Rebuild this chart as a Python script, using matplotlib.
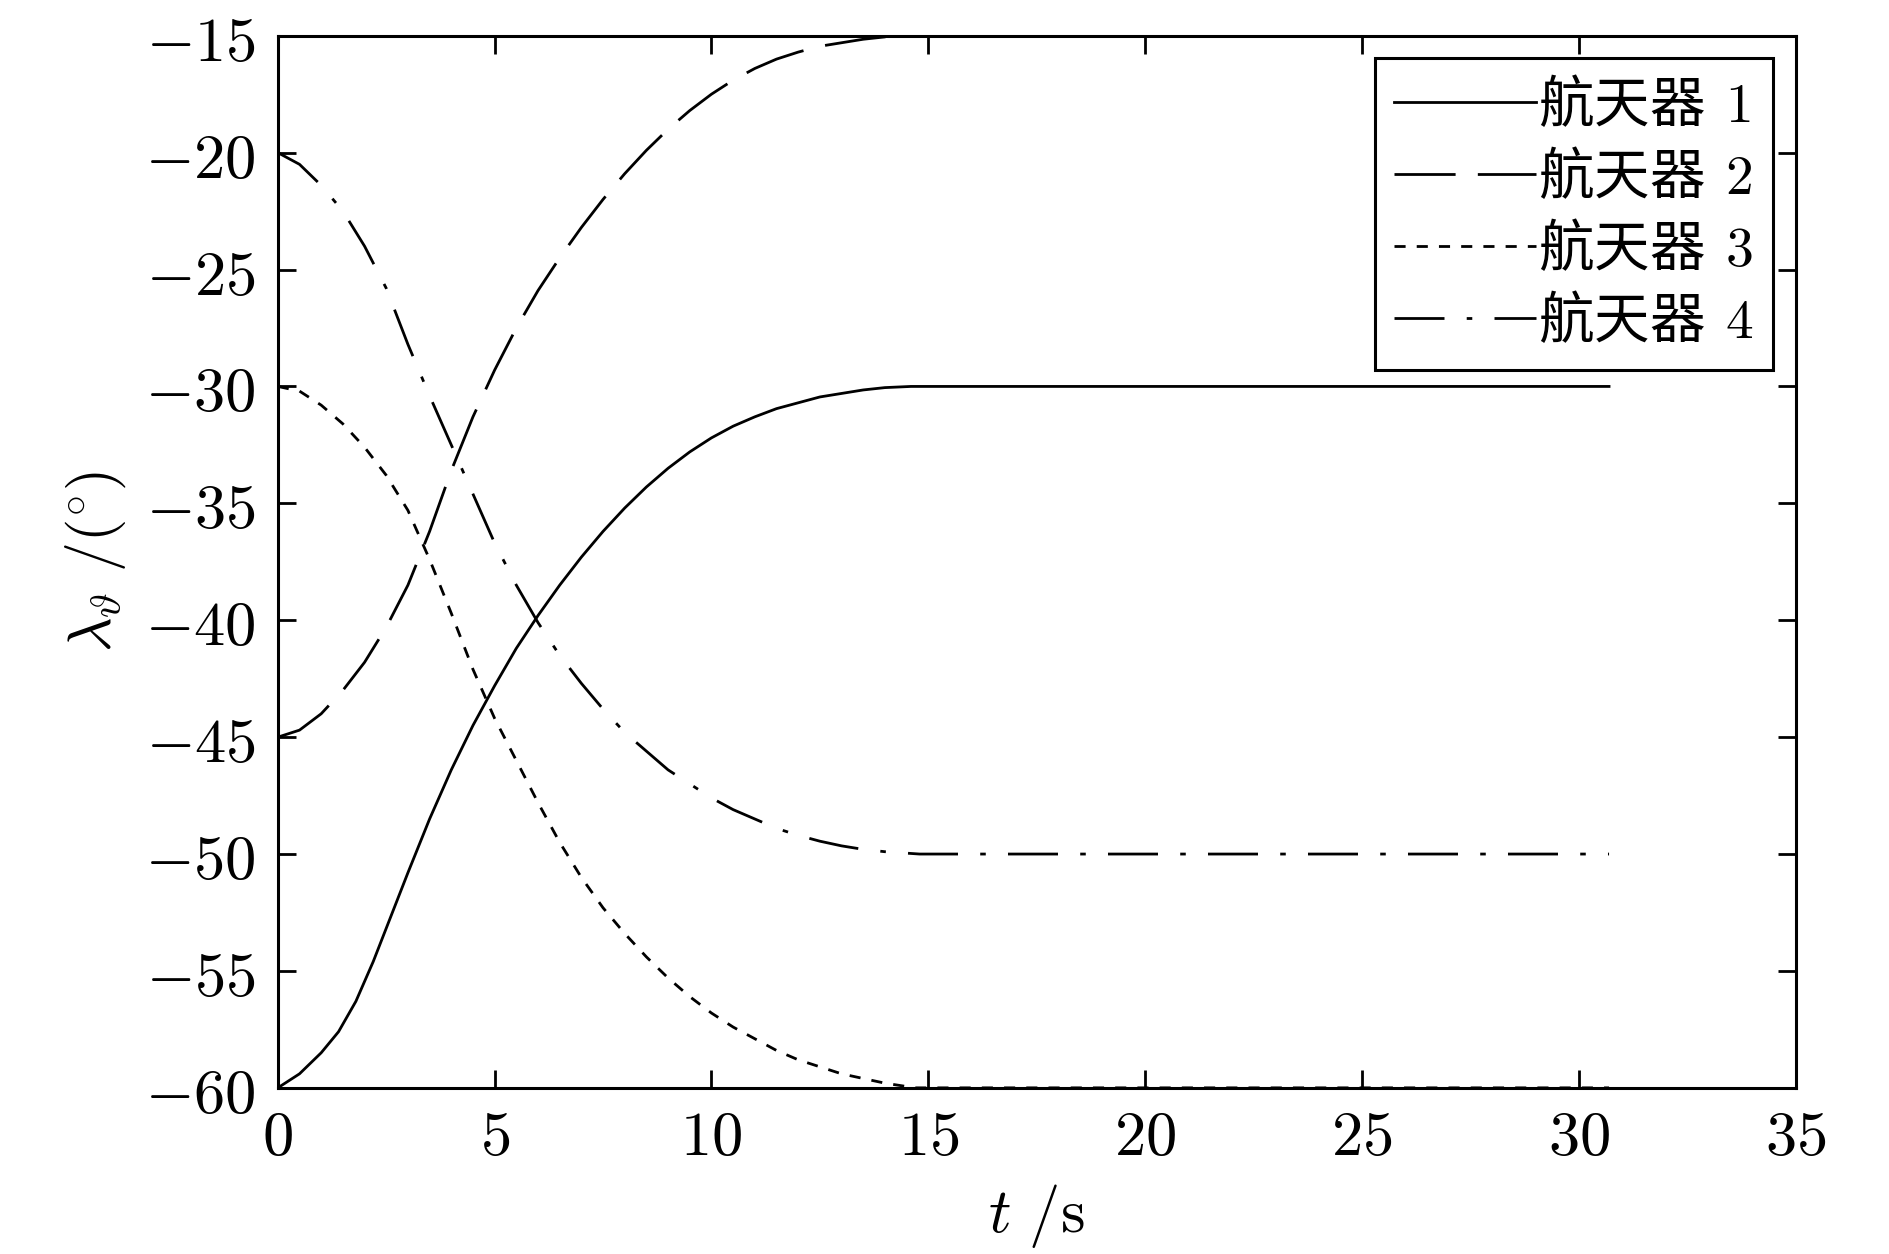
import matplotlib
matplotlib.use("Agg")
import matplotlib.pyplot as plt
from matplotlib.ticker import FuncFormatter

plt.rcParams['font.family'] = ['Noto Sans CJK SC', 'DejaVu Sans']
plt.rcParams['mathtext.fontset'] = 'cm'

# values (t in s, angle in degrees)
t1 = [0, 0.5, 1.0, 1.4, 1.8, 2.2, 2.6, 3.0, 3.5, 4.0, 4.5, 5.0, 5.5, 6.0, 6.5, 7.0, 7.5, 8.0, 8.5,
      9.0, 9.5, 10.0, 10.5, 11.0, 11.5, 12.0, 12.5, 13.0, 13.5, 14.0, 14.6, 30.7]
y1 = [-60, -59.4, -58.5, -57.6, -56.3, -54.6, -52.7, -50.8, -48.5, -46.4, -44.5, -42.8, -41.2, -39.8,
      -38.5, -37.3, -36.2, -35.2, -34.3, -33.5, -32.8, -32.2, -31.7, -31.3, -30.95, -30.7, -30.45,
      -30.3, -30.15, -30.05, -30, -30]

t2 = [0, 0.5, 1.0, 1.5, 2.0, 2.5, 3.0, 3.5, 4.0, 4.5, 5.0, 5.5, 6.0, 6.5, 7.0, 7.5, 8.0, 8.5,
      9.0, 9.5, 10.0, 10.5, 11.0, 11.5, 12.0, 12.5, 13.0, 13.5, 14.0, 14.6, 30.7]
y2 = [-45, -44.7, -44.0, -43.0, -41.8, -40.3, -38.5, -36.2, -33.6, -31.3, -29.3, -27.5, -25.9, -24.5,
      -23.2, -22.0, -20.9, -19.9, -19.0, -18.2, -17.5, -16.9, -16.4, -16.0, -15.7, -15.45, -15.3,
      -15.15, -15.05, -15, -15]

t3 = [0, 0.5, 1.0, 1.5, 2.0, 2.5, 3.0, 3.5, 4.0, 4.5, 5.0, 5.5, 6.0, 6.5, 7.0, 7.5, 8.0, 8.5,
      9.0, 9.5, 10.0, 10.5, 11.0, 11.5, 12.0, 12.5, 13.0, 13.5, 14.0, 14.7, 30.7]
y3 = [-30, -30.2, -30.8, -31.6, -32.6, -33.8, -35.3, -37.4, -39.7, -42.1, -44.2, -46.0, -47.8, -49.5,
      -51.0, -52.3, -53.4, -54.4, -55.3, -56.1, -56.8, -57.4, -57.9, -58.4, -58.8, -59.1, -59.4,
      -59.6, -59.8, -60, -60]

t4 = [0, 0.5, 1.0, 1.5, 2.0, 2.5, 3.0, 3.5, 4.0, 4.5, 5.0, 5.5, 6.0, 6.5, 7.0, 7.5, 8.0, 8.5,
      9.0, 9.5, 10.0, 10.5, 11.0, 11.5, 12.0, 12.5, 13.0, 13.5, 14.0, 14.8, 30.7]
y4 = [-20, -20.5, -21.4, -22.5, -24.0, -25.8, -28.2, -30.4, -32.5, -34.6, -36.7, -38.5, -40.1, -41.5,
      -42.7, -43.8, -44.8, -45.6, -46.4, -47.0, -47.6, -48.1, -48.5, -48.9, -49.2, -49.45, -49.65,
      -49.8, -49.9, -50, -50]

labels = [r'航天器 $\,1$', r'航天器 $\,2$', r'航天器 $\,3$', r'航天器 $\,4$']
xticks = [0, 5, 10, 15, 20, 25, 30, 35]
yticks = [-15, -20, -25, -30, -35, -40, -45, -50, -55, -60]

fig = plt.figure(figsize=(18.9, 12.54), dpi=100)
ax = fig.add_axes([0.147, 0.1325, 0.803, 0.839])

lw = 2.0
ax.plot(t1, y1, color='black', lw=lw, linestyle='-', label=labels[0])
l2, = ax.plot(t2, y2, color='black', lw=lw, label=labels[1])
l2.set_dashes([22, 8])
l3, = ax.plot(t3, y3, color='black', lw=lw, label=labels[2])
l3.set_dashes([4, 4])
l4, = ax.plot(t4, y4, color='black', lw=lw, label=labels[3])
l4.set_dashes([18, 8, 2, 8])

ax.set_xlim(0, 35)
ax.set_ylim(-60, -15)
ax.set_xticks(xticks)
ax.set_yticks(yticks)
fmt = FuncFormatter(lambda v, p: '${:g}$'.format(v))
ax.xaxis.set_major_formatter(fmt)
ax.yaxis.set_major_formatter(fmt)
ax.tick_params(which='major', direction='in', length=13, width=2,
               top=True, right=True, labelsize=45)
ax.tick_params(axis='y', pad=16)
ax.tick_params(axis='x', pad=12)
for s in ax.spines.values():
    s.set_linewidth(2.2)

ax.set_xlabel(r'$t\ /\mathrm{s}$', fontsize=45, labelpad=10)
ax.set_ylabel(r'$\lambda_{\vartheta}\ /(^{\circ})$', fontsize=43, labelpad=12)

leg = ax.legend(loc='upper right', fontsize=40, fancybox=False, framealpha=1,
                edgecolor='black', handlelength=2.55, handletextpad=0.05,
                borderaxespad=0.4, labelspacing=0.26, borderpad=0.35)
leg.get_frame().set_linewidth(2.2)

fig.savefig('out.png', dpi=100)
